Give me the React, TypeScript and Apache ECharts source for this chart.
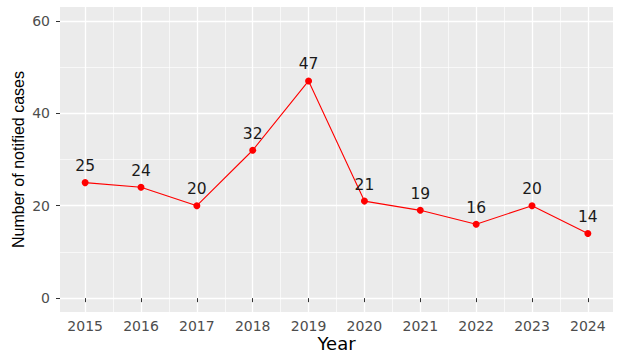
import React, { useEffect, useRef } from 'react';
import * as echarts from 'echarts';

const years = [2015, 2016, 2017, 2018, 2019, 2020, 2021, 2022, 2023, 2024];
const cases = [25, 24, 20, 32, 47, 21, 19, 16, 20, 14];
const yMajorTicks = [0, 20, 40, 60];
const yMinorTicks = [10, 30, 50];
const xMinorTicks = [2015.5, 2016.5, 2017.5, 2018.5, 2019.5, 2020.5, 2021.5, 2022.5, 2023.5];
const xRange = [2014.55, 2024.45];
const yRange = [-3, 63];
const xTitle = 'Year';
const yTitle = 'Number of notified cases';

export default function App() {
  const ref = useRef<HTMLDivElement>(null);
  useEffect(() => {
    if (!ref.current) return;
    const chart = echarts.init(ref.current, null, { renderer: 'svg' });
    const tickFont = 'DejaVu Sans';
    chart.setOption({
      animation: false,
      grid: {
        left: 60,
        right: 11,
        top: 7,
        bottom: 48,
        show: true,
        backgroundColor: '#ebebeb',
        borderWidth: 0,
      },
      xAxis: [
        {
          type: 'value',
          min: xRange[0],
          max: xRange[1],
          name: xTitle,
          nameLocation: 'middle',
          nameGap: 22,
          nameMoveOverlap: false,
          nameTextStyle: { color: '#000', fontSize: 18, fontFamily: tickFont },
          axisLine: { show: false },
          axisTick: { show: true, length: 4, customValues: years, lineStyle: { color: '#333', width: 1 } },
          axisLabel: {
            customValues: years,
            color: '#4d4d4d',
            fontSize: 14,
            fontFamily: tickFont,
            margin: 7,
            formatter: (v: number) => String(v),
          },
          splitLine: { show: true, lineStyle: { color: '#ffffff', width: 1.3 } },
        },
        {
          type: 'value',
          min: xRange[0],
          max: xRange[1],
          position: 'top',
          axisLine: { show: false },
          axisTick: { show: false, customValues: xMinorTicks },
          axisLabel: { show: false, customValues: xMinorTicks },
          splitLine: { show: true, lineStyle: { color: '#ffffff', width: 0.65 } },
        },
      ],
      yAxis: [
        {
          type: 'value',
          min: yRange[0],
          max: yRange[1],
          name: yTitle,
          nameLocation: 'middle',
          nameGap: 34,
          nameMoveOverlap: false,
          nameTextStyle: { color: '#000', fontSize: 16, fontFamily: 'Liberation Sans' },
          axisLine: { show: false },
          axisTick: { show: true, length: 4, customValues: yMajorTicks, lineStyle: { color: '#333', width: 1 } },
          axisLabel: {
            customValues: yMajorTicks,
            color: '#4d4d4d',
            fontSize: 14,
            fontFamily: tickFont,
            margin: 10,
          },
          splitLine: { show: true, lineStyle: { color: '#ffffff', width: 1.3 } },
        },
        {
          type: 'value',
          min: yRange[0],
          max: yRange[1],
          position: 'right',
          axisLine: { show: false },
          axisTick: { show: false, customValues: yMinorTicks },
          axisLabel: { show: false, customValues: yMinorTicks },
          splitLine: { show: true, lineStyle: { color: '#ffffff', width: 0.65 } },
        },
      ],
      series: [
        {
          type: 'line',
          xAxisIndex: 0,
          yAxisIndex: 0,
          data: years.map((y, i) => [y, cases[i]]),
          symbol: 'circle',
          symbolSize: 7,
          itemStyle: { color: '#ff0000' },
          lineStyle: { color: '#ff0000', width: 1.1 },
          label: {
            show: true,
            position: 'top',
            distance: 5,
            color: '#1a1a1a',
            fontSize: 15.5,
            fontFamily: tickFont,
            formatter: (p: any) => String(p.value[1]),
          },
          z: 3,
        },
      ],
    });
    return () => chart.dispose();
  }, []);
  return (
    <div
      ref={ref}
      style={{ position: 'fixed', left: 0, top: 0, width: 624, height: 360, background: '#fff' }}
    />
  );
}
